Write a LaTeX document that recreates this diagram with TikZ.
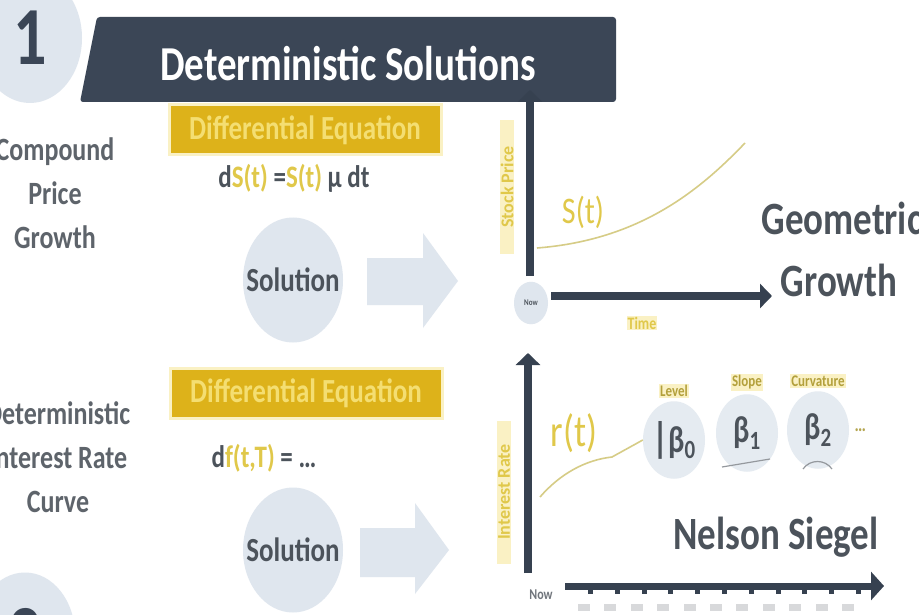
\documentclass[tikz,border=0pt]{standalone}
\usepackage{fontspec}
\setmainfont{Carlito}
\usepackage{xcolor}
\usepackage{tikz}
\definecolor{slate}{HTML}{3B4656}
\definecolor{axisink}{HTML}{364150}
\definecolor{gold}{HTML}{DDB21A}
\definecolor{goldtext}{HTML}{F4DE72}
\definecolor{glow}{HTML}{FAF1C4}
\definecolor{hilite}{HTML}{E0C84A}
\definecolor{haze}{HTML}{DFE6EE}
\definecolor{ink}{HTML}{4C535B}
\definecolor{curveline}{HTML}{D6CC86}
\usetikzlibrary{arrows.meta,positioning}
\newcommand{\fsz}[1]{\fontsize{#1}{#1}\selectfont}

\begin{document}
\begin{tikzpicture}[x=1pt,y=-1pt,
  tall/.style={yscale=1.25},
  numbub/.style={tall,circle,fill=haze,minimum size=104pt,inner sep=0pt,
                 text=slate,font=\fsz{66}\bfseries},
  eqbox/.style={tall,rectangle,fill=gold,draw=glow,line width=3pt,
                minimum width=272pt,minimum height=40pt,text=goldtext,
                font=\fsz{27}\bfseries},
  eqtext/.style={tall,text=ink,font=\fsz{25}\bfseries},
  sidelbl/.style={tall,text=ink!90,font=\fsz{26}\bfseries,align=center},
  bigword/.style={tall,text=ink,font=\fsz{37}\bfseries},
  solbub/.style={tall,circle,fill=haze,minimum size=100pt,inner sep=0pt,
                 text=ink,font=\fsz{27}\bfseries},
  axislbl/.style={rotate=90,fill=glow,text=hilite,font=\fsz{18}\bfseries,
                  inner sep=1pt},
  curvelbl/.style={tall,text=hilite,font=\fsz{30}},
  factlbl/.style={tall,fill=glow,text=hilite!80!black,font=\fsz{13}\bfseries,
                  inner sep=1pt},
  betabub/.style={tall,circle,fill=haze!80,minimum size=62pt,inner sep=0pt,
                  text=ink,font=\fsz{30}\bfseries},
  axis/.style={draw=axisink,line width=8pt,
               -{Triangle[width=24pt,length=12pt]}},
  blockarr/.style={fill=haze}]
  \clip (0,0) rectangle (919,615);
  \fill[white] (0,0) rectangle (919,615);

  % header
  \node[numbub] (one) at (30,38) {1};
  \fill[slate,rounded corners=3pt] (97,17) -- (616,17) -- (616,102) -- (80,102) -- cycle;
  \node[tall,text=white,font=\fsz{39}\bfseries] (title) at (348,64) {Deterministic Solutions};

  % stock price row
  \node[sidelbl] (cpg) at (55,193) {Compound\\[9pt]Price\\[9pt]Growth};
  \node[eqbox] (de1) at (305,130) {Differential Equation};
  \node[eqtext] (eq1) at (294,178) {d\textcolor{hilite}{S(t)} =\textcolor{hilite}{S(t)} μ dt};
  \node[solbub] (sol1) at (293,280) {Solution};
  \fill[blockarr] (367,258) -- (423,258) -- (423,233) -- (458,281) -- (423,328) -- (423,305) -- (367,305) -- cycle;

  \coordinate (sbase) at (530,276);
  \coordinate (stop) at (530,90);
  \node[tall,circle,fill=haze,minimum size=34pt,inner sep=0pt,text=ink,
        font=\fsz{7}\bfseries] (now1) at (531,303) {Now};
  \coordinate (tstart) at (551,296);
  \coordinate (tend) at (772,296);
  \draw[axis] (sbase) -- (stop);
  \draw[axis] (tstart) -- (tend);
  \node[axislbl,minimum width=133pt] (spx) at (507,187) {Stock Price};
  \node[tall,fill=glow,text=hilite,font=\fsz{14}\bfseries,inner sep=1pt] (time) at (642,323) {Time};
  \coordinate (s0) at (537,248);
  \coordinate (s1) at (745,143);
  \draw[curveline,line width=1.6pt] (s0) .. controls (640,240) and (700,190) .. (s1);
  \node[curvelbl] (st) at (583,212) {S(t)};
  \node[bigword] (geo) at (842,218) {Geometric};
  \node[bigword] (grw) at (839,280) {Growth};

  % interest rate row
  \node[sidelbl] (dirc) at (58,457) {Deterministic\\[9pt]Interest Rate\\[9pt]Curve};
  \node[eqbox] (de2) at (306,393) {Differential Equation};
  \node[eqtext] (eq2) at (264,458) {d\textcolor{hilite}{f(t,T)} = …};
  \node[solbub] (sol2) at (293,550) {Solution};
  \fill[blockarr] (360,528) -- (415,528) -- (415,503) -- (449,550) -- (415,594) -- (415,577) -- (360,577) -- cycle;
  \node[numbub,minimum size=100pt] (two) at (25,635) {2};

  \coordinate (rbase) at (528,573);
  \coordinate (rtop) at (528,353);
  \coordinate (tau0) at (565,586);
  \coordinate (tau1) at (884,586);
  \draw[axis] (rbase) -- (rtop);
  \draw[axis,line width=7pt,-{Triangle[width=28pt,length=13pt]}] (tau0) -- (tau1);
  \foreach \i in {0,...,10}{
    \fill[axisink] (588+26.8*\i,588) rectangle ++(5,6);
    \fill[ink!22] (578+26.4*\i,604) rectangle ++(12,7);
  }
  \node[tall,text=ink!80,font=\fsz{12}\bfseries] (now2) at (541,595) {Now};
  \node[axislbl,minimum width=143pt] (irt) at (504,492) {Interest Rate};

  \node[betabub] (b0) at (674,440) {{\fsz{34}|}β\textsubscript{0}};
  \node[betabub] (b1) at (747,433) {β\textsubscript{1}};
  \node[betabub] (b2) at (818,430) {β\textsubscript{2}};
  \draw[ink!60,line width=1.2pt] (722,467) -- (770,459);
  \draw[ink!60,line width=1.2pt] (803,469) .. controls (810,459) and (825,459) .. (832,469);
  \node[factlbl,above=3pt of b0] (lvl) {Level};
  \node[factlbl,above=3pt of b1] (slp) {Slope};
  \node[factlbl,above=3pt of b2] (crv) {Curvature};
  \node[tall,right=2pt of b2,text=hilite!70!ink,font=\fsz{16}\bfseries] (more) {…};

  \coordinate (r0) at (540,497);
  \draw[curveline,line width=1.6pt] (r0) .. controls (560,474) and (585,460) .. (612,457) -- (b0.west);
  \node[curvelbl,font=\fsz{36}] (rt) at (574,433) {r(t)};
  \node[bigword] (ns) at (776,537) {Nelson Siegel};
\end{tikzpicture}
\end{document}
